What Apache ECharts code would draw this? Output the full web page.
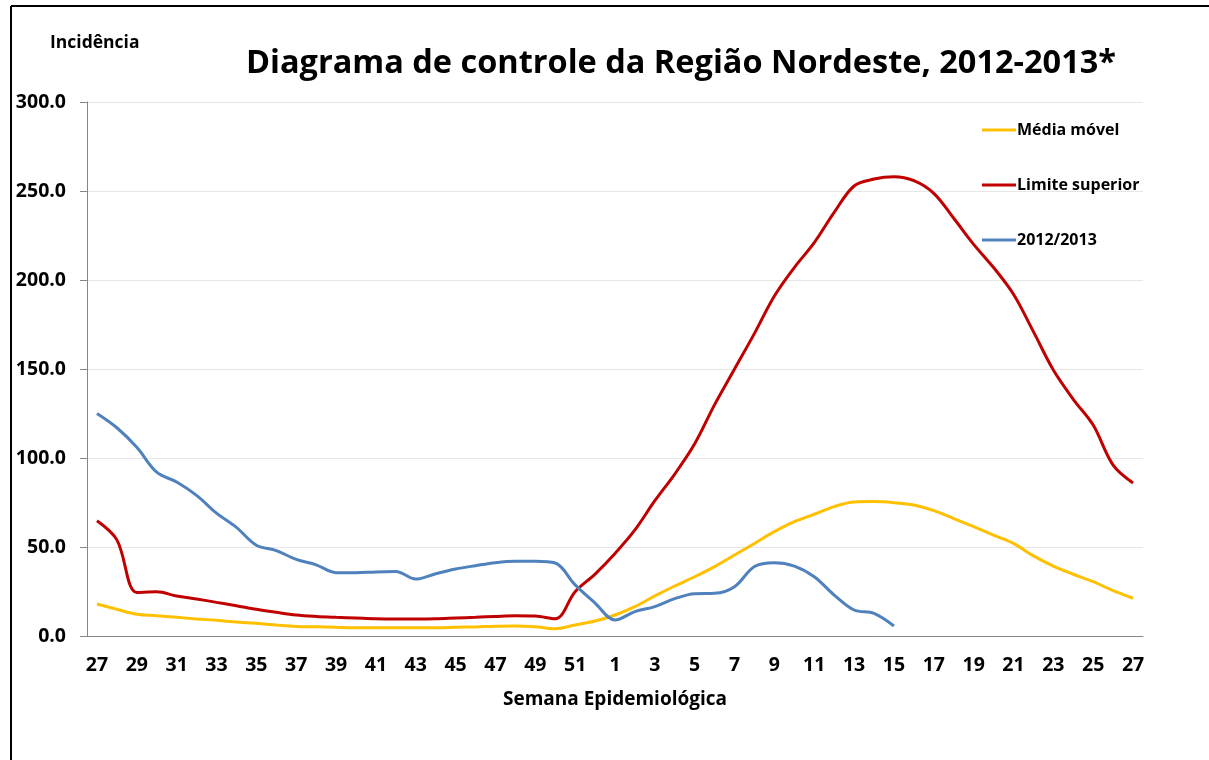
<!DOCTYPE html>
<html>
<head>
<meta charset="utf-8">
<script src="https://cdn.jsdelivr.net/npm/echarts@6/dist/echarts.min.js"></script>
<style>
  html, body { margin: 0; padding: 0; background: #fff; }
  #chart { width: 1209px; height: 760px; }
</style>
</head>
<body>
<div id="chart"></div>
<script>
// epidemiological weeks 27..52 of 2012, then 1..27 of 2013
const weeks = ['27','28','29','30','31','32','33','34','35','36','37','38','39','40','41','42','43','44','45','46','47','48','49','50','51','52',
  '1','2','3','4','5','6','7','8','9','10','11','12','13','14','15','16','17','18','19','20','21','22','23','24','25','26','27'];

const mediaMovel = [18, 15, 12.2, 11.4, 10.5, 9.6, 8.8, 7.9, 7.1, 6.2, 5.4, 5.2, 4.9, 4.7, 4.7, 4.7, 4.7, 4.7, 4.9, 5.1, 5.5, 5.6, 5.2, 4.1, 6.2, 8.4,
  11.8, 16.5, 22.5, 28.1, 33.3, 39, 45.5, 52, 58.6, 64.2, 68.4, 72.7, 75.3, 75.5, 74.9, 73.6, 70.4, 66, 61.4, 56.7, 52, 45, 39.3, 34.7, 30.5, 25.5, 21.2];

const limiteSuperior = [64.8, 54, 24.5, 24.8, 22.5, 20.8, 18.9, 17, 15, 13.3, 11.8, 11, 10.5, 10.1, 9.7, 9.6, 9.6, 9.7, 10.1, 10.5, 11, 11.4, 11.2, 9.7, 24.9, 34.8,
  46.4, 59.6, 76, 91, 108, 130, 150, 170, 191, 207, 221, 238, 252.8, 256.7, 258, 255.8, 248.7, 234.7, 220, 207, 192, 171, 149.4, 133, 118.5, 96, 86];

const ano2012 = [125, 117, 106, 92, 86.5, 79, 69, 61, 51, 48, 43, 40, 35.6, 35.5, 36, 36.2, 32, 35, 37.6, 39.5, 41.2, 42, 42, 41, 28.7, 18.5,
  9, 13.7, 16.5, 21, 23.8, 24, 27.7, 39, 41.2, 39.3, 33.3, 23, 14.6, 12.7, 5.6,
  null, null, null, null, null, null, null, null, null, null, null, null];

const font = '"Open Sans", "DejaVu Sans", sans-serif';
const chart = echarts.init(document.getElementById('chart'));

chart.setOption({
  animation: false,
  backgroundColor: '#fff',
  textStyle: { fontFamily: font },
  title: {
    text: 'Diagrama de controle da Região Nordeste, 2012-2013*',
    left: 676,
    top: 42,
    textAlign: 'center',
    textStyle: { fontSize: 32.5, fontWeight: 'bold', color: '#000', fontFamily: font }
  },
  legend: {
    orient: 'vertical',
    left: 977,
    top: 117,
    itemGap: 39,
    itemWidth: 34,
    itemHeight: 3,
    icon: 'rect',
    textStyle: { fontSize: 16, fontWeight: 'bold', color: '#000', padding: [0, 0, 0, -4] },
    data: ['Média móvel', 'Limite superior', '2012/2013']
  },
  grid: { left: 87, right: 66, top: 102, bottom: 124 },
  xAxis: {
    type: 'category',
    data: weeks,
    boundaryGap: true,
    name: 'Semana Epidemiológica',
    nameLocation: 'middle',
    nameGap: 54,
    nameTextStyle: { fontSize: 19, fontWeight: 'bold', color: '#000' },
    axisLine: { lineStyle: { color: '#868686' } },
    axisTick: { interval: 2, length: 6, lineStyle: { color: '#868686' } },
    axisLabel: { interval: 1, fontSize: 19.5, fontWeight: 'bold', color: '#000', margin: 19 }
  },
  yAxis: {
    type: 'value',
    min: 0,
    max: 300,
    interval: 50,
    name: 'Incidência',
    nameLocation: 'end',
    nameGap: 0,
    nameTextStyle: { fontSize: 17.5, fontWeight: 'bold', color: '#000', align: 'left', padding: [0, 0, 50, -37] },
    axisLine: { show: true, lineStyle: { color: '#868686' } },
    axisTick: { show: true, inside: false, length: 7, lineStyle: { color: '#868686' } },
    splitLine: { lineStyle: { color: '#e6e6e6' } },
    axisLabel: { fontSize: 19.5, fontWeight: 'bold', color: '#000', margin: 21, formatter: v => v.toFixed(1) }
  },
  graphic: [
    { type: 'line', shape: { x1: 11, y1: 6, x2: 1209, y2: 6 }, style: { stroke: '#000', lineWidth: 2 } },
    { type: 'line', shape: { x1: 11, y1: 6, x2: 11, y2: 760 }, style: { stroke: '#000', lineWidth: 2 } }
  ],
  series: [
    {
      name: 'Média móvel', type: 'line', data: mediaMovel, smooth: 0.35, symbol: 'none',
      lineStyle: { color: '#FFC000', width: 3 }, itemStyle: { color: '#FFC000' }
    },
    {
      name: 'Limite superior', type: 'line', data: limiteSuperior, smooth: 0.35, symbol: 'none',
      lineStyle: { color: '#C00000', width: 3 }, itemStyle: { color: '#C00000' }
    },
    {
      name: '2012/2013', type: 'line', data: ano2012, smooth: 0.35, symbol: 'none',
      lineStyle: { color: '#4F81BD', width: 3 }, itemStyle: { color: '#4F81BD' }
    }
  ]
});
</script>
</body>
</html>
